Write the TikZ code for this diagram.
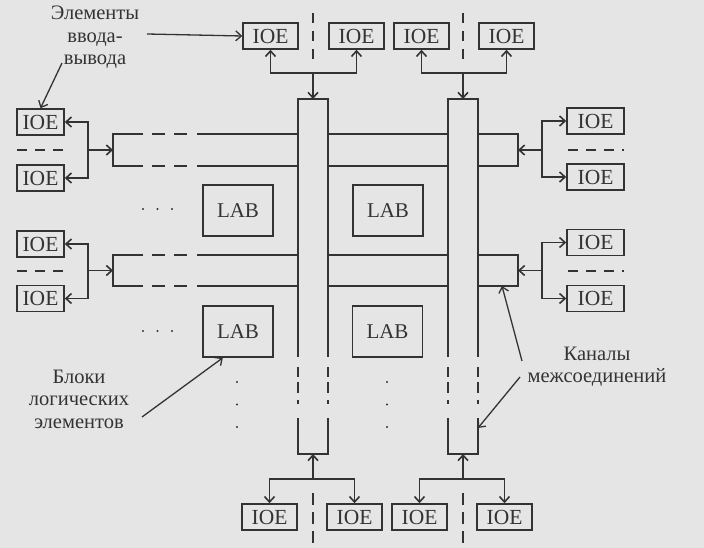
\documentclass[tikz,border=0pt]{standalone}
\usepackage{fontspec}
\setmainfont{Liberation Serif}
\usetikzlibrary{arrows.meta}
\definecolor{ink}{gray}{0.2}
\definecolor{paper}{gray}{0.9}
\begin{document}
\begin{tikzpicture}[x=1pt,y=-1pt,line width=1.6pt,color=ink,
  every node/.style={inner sep=0pt,text=ink},
  box/.style={draw=ink,line width=1.6pt,minimum height=26pt,font=\fontsize{21.5}{22}\selectfont},
  ioetop/.style={box,minimum width=55pt},
  ioeleft/.style={box,minimum width=47pt},
  ioeright/.style={box,minimum width=57pt},
  labbox/.style={draw=ink,line width=1.6pt,minimum width=70pt,minimum height=51pt,font=\fontsize{21}{22}\selectfont},
  lbl/.style={align=center,font=\fontsize{20.5}{22.5}\selectfont},
  arr/.style={-{Straight Barb[length=5.5pt,width=10pt]}},
  sep/.style={dash pattern=on 10pt off 8pt}]
\useasboundingbox (0,0) rectangle (704,548);
\fill[paper] (0,0) rectangle (704,548);

% IOE nodes
\node[ioetop] (t1) at (270.5,36) {IOE};
\node[ioetop] (t2) at (356.5,36) {IOE};
\node[ioetop] (t3) at (421.5,36) {IOE};
\node[ioetop] (t4) at (506.5,36) {IOE};
\node[ioetop] (b1) at (269.5,517) {IOE};
\node[ioetop] (b2) at (354.5,517) {IOE};
\node[ioetop] (b3) at (419.5,517) {IOE};
\node[ioetop] (b4) at (504.5,517) {IOE};
\node[ioeleft] (l1) at (40.5,122) {IOE};
\node[ioeleft] (l2) at (40.5,178) {IOE};
\node[ioeleft] (l3) at (40.5,244) {IOE};
\node[ioeleft] (l4) at (40.5,298.5) {IOE};
\node[ioeright] (r1) at (595.5,121) {IOE};
\node[ioeright] (r2) at (595.5,177) {IOE};
\node[ioeright] (r3) at (595.5,242.5) {IOE};
\node[ioeright] (r4) at (595.5,298.5) {IOE};

% LAB nodes
\node[labbox] (lab1) at (238,210.5) {LAB};
\node[labbox] (lab2) at (388,210.5) {LAB};
\node[labbox] (lab3) at (238,331.5) {LAB};
\node[labbox] (lab4) at (387.5,331.5) {LAB};

% vertical channels
\foreach \xa/\xb in {298/328,448/478}{
  \draw (\xa,357) -- (\xa,99) -- (\xb,99) -- (\xb,357);
  \draw (\xa,418) -- (\xa,454) -- (\xb,454) -- (\xb,418);
  \foreach \xx in {\xa,\xb}{
    \draw (\xx,367) -- (\xx,377) (\xx,382) -- (\xx,393) (\xx,400) -- (\xx,404);
  }
}
\coordinate (v1top) at (313,99);
\coordinate (v2top) at (463,99);
\coordinate (v1bot) at (313,454);
\coordinate (v2bot) at (463,454);
\coordinate (v2side) at (478,428);

% horizontal channels
\foreach \ya/\yb in {134/166,255/286}{
  \draw (143,\ya) -- (113,\ya) -- (113,\yb) -- (143,\yb);
  \draw (478,\ya) -- (518,\ya) -- (518,\yb) -- (478,\yb);
  \foreach \yy in {\ya,\yb}{
    \draw (152,\yy) -- (165,\yy) (174,\yy) -- (187,\yy);
    \draw (197,\yy) -- (298,\yy) (328,\yy) -- (448,\yy);
  }
}
\coordinate (h1L) at (113,150);
\coordinate (h1R) at (518,150);
\coordinate (h2L) at (113,270.5);
\coordinate (h2R) at (518,270.5);
\coordinate (h2Rb) at (502,286);

% junctions
\coordinate (jt1) at (313,73);
\coordinate (jt2) at (463,73);
\coordinate (jb1) at (313,479);
\coordinate (jb2) at (463,479);
\coordinate (jl1) at (88,150);
\coordinate (jl2) at (88,270.5);
\coordinate (jr1) at (542,150);
\coordinate (jr2) at (542,270.5);

% top connectors
\draw[arr] (jt1) -| (t1.south);
\draw[arr] (jt1) -| (t2.south);
\draw[arr] (jt1) -- (v1top);
\draw[arr] (jt2) -| (t3.south);
\draw[arr] (jt2) -| (t4.south);
\draw[arr] (jt2) -- (v2top);
% bottom connectors
\draw[arr] (jb1) -| (b1.north);
\draw[arr] (jb1) -| (b2.north);
\draw[arr] (jb1) -- (v1bot);
\draw[arr] (jb2) -| (b3.north);
\draw[arr] (jb2) -| (b4.north);
\draw[arr] (jb2) -- (v2bot);
% left connectors
\draw[arr] (jl1) |- (l1.east);
\draw[arr] (jl1) |- (l2.east);
\draw[arr] (jl1) -- (h1L);
\draw[arr] (jl2) |- (l3.east);
\draw[arr] (jl2) |- (l4.east);
\draw[arr] (jl2) -- (h2L);
% right connectors
\draw[arr] (jr1) |- (r1.west);
\draw[arr] (jr1) |- (r2.west);
\draw[arr] (jr1) -- (h1R);
\draw[arr] (jr2) |- (r3.west);
\draw[arr] (jr2) |- (r4.west);
\draw[arr] (jr2) -- (h2R);

% separators
\draw[sep] (313,13) -- (313,62);
\draw[sep] (463,13) -- (463,62);
\draw[dash pattern=on 12pt off 7pt] (313,493) -- (313,548);
\draw[dash pattern=on 12pt off 7pt] (463,493) -- (463,548);
\draw[sep] (17,150) -- (65,150);
\draw[sep] (17,271) -- (65,271);
\draw[sep] (568,150) -- (624,150);
\draw[sep] (568,271) -- (624,271);

% dots
\foreach \yy in {209,331}{
  \foreach \xx in {143,157.5,172}{ \fill (\xx,\yy) circle (1.2pt); }
}
\foreach \xx in {237,387}{
  \foreach \yy in {382,404.5,427}{ \fill (\xx,\yy) circle (1.2pt); }
}

% labels
\node[lbl] (lblio) at (95,37.5) {Элементы\\ввода-\\вывода};
\coordinate (a1s) at (147,34);
\coordinate (a2s) at (62,63);
\draw[arr,line width=1.3pt] (a1s) -- (t1.west);
\draw[arr,line width=1.3pt] (a2s) -- (l1.north);

\node[lbl] (lbllab) at (79,399) {Блоки\\логических\\элементов};
\coordinate (a3s) at (142,417);
\draw[arr,line width=1.3pt] (a3s) -- (lab3.-120);

\node[lbl] (lblch) at (597,367) {Каналы\\межсоединений};
\coordinate (a4s) at (522,361);
\coordinate (a5s) at (520,377);
\draw[arr,line width=1.3pt] (a4s) -- (h2Rb);
\draw[arr,line width=1.3pt] (a5s) -- (v2side);
\end{tikzpicture}
\end{document}
